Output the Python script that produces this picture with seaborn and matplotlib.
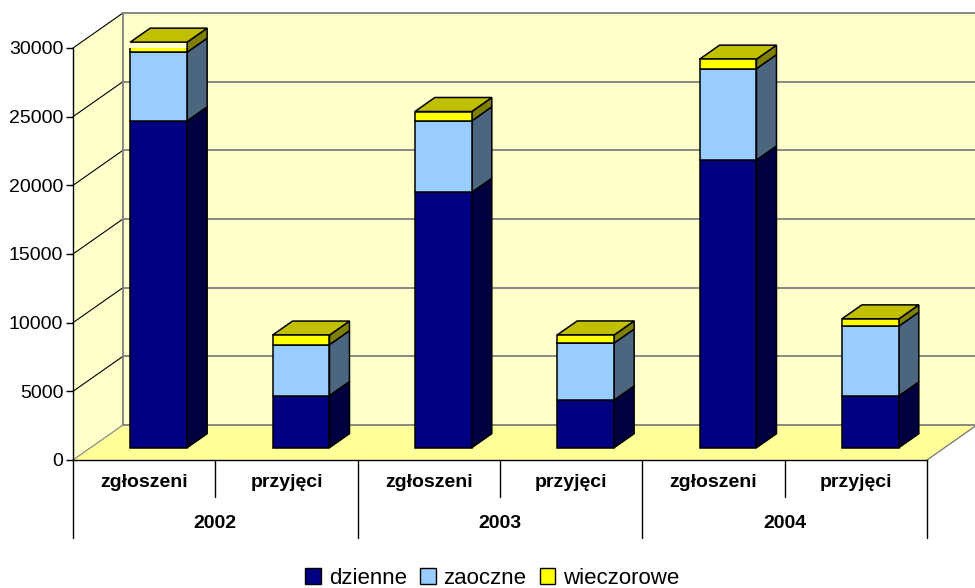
import matplotlib
matplotlib.use("Agg")
import matplotlib.pyplot as plt
from matplotlib.patches import Polygon, Patch
import seaborn as sns
import numpy as np
import pandas as pd

# Data
years = ["2002", "2003", "2004"]
groups = ["zgłoszeni", "przyjęci"]
series = ["dzienne", "zaoczne", "wieczorowe"]

dzienne = [23800, 3800, 18600, 3470, 20950, 3770]
zaoczne = [5000, 3700, 5200, 4150, 6650, 5080]
wieczorowe = [730, 700, 680, 590, 690, 530]

yticks = [0, 5000, 10000, 15000, 20000, 25000, 30000]

# Colours (Excel-like 3D look)
front_colors = ["#000080", "#99CCFF", "#FFFF00"]
side_colors = ["#000040", "#4D6680", "#808000"]
top_color = "#C0C000"
wall_color = "#FFFFCC"
floor_color = "#FFFF99"
grid_color = "#808080"

# 3D depth offsets in data units
WALL_DX, WALL_DY = 0.351, 2550
BAR_X0, BAR_Y0 = 0.102, 896
BAR_DX, BAR_DY = 0.1405, 1020

sns.set_style("white")
plt.rcParams["font.family"] = ["Liberation Sans", "DejaVu Sans"]
plt.rcParams["text.color"] = "black"
plt.rcParams["xtick.color"] = "black"
plt.rcParams["ytick.color"] = "black"

labels = [g for y in years for g in groups]
df = pd.DataFrame({
    "pos": np.arange(len(labels)),
    "dzienne": dzienne,
    "zaoczne": zaoczne,
    "wieczorowe": wieczorowe,
})

fig = plt.figure(figsize=(9.75, 5.88), dpi=100)
ax = fig.add_axes([73 / 975, 128 / 588, 854 / 975, 412 / 588])
ax.set_facecolor("none")

x_lo, x_hi = -0.5, len(labels) - 0.5
y_top = yticks[-1]

# back wall, side wall and floor
ax.add_patch(Polygon([(x_lo + WALL_DX, WALL_DY), (x_hi + WALL_DX + 0.2, WALL_DY),
                      (x_hi + WALL_DX + 0.2, y_top + WALL_DY), (x_lo + WALL_DX, y_top + WALL_DY)],
                     closed=True, fc=wall_color, ec="none", clip_on=False, zorder=0))
ax.add_patch(Polygon([(x_lo, 0), (x_lo, y_top), (x_lo + WALL_DX, y_top + WALL_DY),
                      (x_lo + WALL_DX, WALL_DY)],
                     closed=True, fc=wall_color, ec="none", clip_on=False, zorder=0))
ax.add_patch(Polygon([(x_lo, 0), (x_hi, 0), (x_hi + WALL_DX, WALL_DY), (x_lo + WALL_DX, WALL_DY)],
                     closed=True, fc=floor_color, ec="none", clip_on=False, zorder=1))

# gridlines on walls
for v in yticks:
    ax.plot([x_lo + WALL_DX, x_hi + WALL_DX + 0.2], [v + WALL_DY, v + WALL_DY],
            color=grid_color, lw=1.3, clip_on=False, zorder=2)
    ax.plot([x_lo, x_lo + WALL_DX], [v, v + WALL_DY],
            color="black" if v > 0 else grid_color, lw=0.8, clip_on=False, zorder=2)
ax.plot([x_lo + WALL_DX, x_lo + WALL_DX], [WALL_DY, y_top + WALL_DY],
        color=grid_color, lw=1.3, clip_on=False, zorder=2)
ax.plot([x_hi, x_hi + WALL_DX], [0, WALL_DY], color=grid_color, lw=1.0, clip_on=False, zorder=2)

# stacked bars: front faces with seaborn, then side and top faces
cum = np.zeros(len(labels))
for i, (name, fc) in enumerate(zip(series, front_colors)):
    vals = df[name].to_numpy(dtype=float)
    n_before = len(ax.patches)
    sns.barplot(x=df["pos"].to_numpy() + BAR_X0, y=vals, native_scale=True, width=0.4,
                bottom=cum + BAR_Y0, color=fc, saturation=1, errorbar=None,
                edgecolor="black", linewidth=1.1, zorder=5, ax=ax)
    for r in ax.patches[n_before:]:
        x0, w = r.get_x(), r.get_width()
        yb, h = r.get_y(), r.get_height()
        ax.add_patch(Polygon([(x0 + w, yb), (x0 + w + BAR_DX, yb + BAR_DY),
                              (x0 + w + BAR_DX, yb + h + BAR_DY), (x0 + w, yb + h)],
                             closed=True, fc=side_colors[i], ec="black", lw=1.1,
                             clip_on=False, zorder=4))
        if i == len(series) - 1:
            ax.add_patch(Polygon([(x0, yb + h), (x0 + w, yb + h),
                                  (x0 + w + BAR_DX, yb + h + BAR_DY), (x0 + BAR_DX, yb + h + BAR_DY)],
                                 closed=True, fc=top_color, ec="black", lw=1.1,
                                 clip_on=False, zorder=4))
    cum += vals

ax.set_xlim(x_lo, x_hi)
ax.set_ylim(0, y_top)
ax.set_xlabel("")
ax.set_ylabel("")

# axes look
for s in ["top", "right"]:
    ax.spines[s].set_visible(False)
ax.spines["left"].set_bounds(0, y_top)
ax.spines["left"].set_color("black")
ax.spines["left"].set_linewidth(1.0)
ax.spines["bottom"].set_color("black")
ax.spines["bottom"].set_linewidth(1.0)

ax.set_yticks(yticks)
ax.set_yticklabels([str(v) for v in yticks], fontsize=14)
ax.tick_params(axis="y", direction="out", length=5, width=1, color="black", pad=2, left=True)

ax.set_xticks(df["pos"])
ax.set_xticklabels(labels, fontsize=14, fontweight="bold")
ax.tick_params(axis="x", length=0, pad=10)

# category separators and year labels
trans = ax.get_xaxis_transform()
for b in np.arange(x_lo, x_hi + 0.01, 1.0):
    long_line = abs((b - x_lo) % 2) < 1e-9
    ax.plot([b, b], [0, -0.1893 if long_line else -0.0898], color="black", lw=1.0,
            transform=trans, clip_on=False)
for k, yr in enumerate(years):
    ax.text(2 * k + 0.5, -0.155, yr, transform=trans, ha="center", va="center",
            fontsize=14, fontweight="bold")

handles = [Patch(facecolor=c, edgecolor="black", linewidth=1.0) for c in front_colors]
fig.legend(handles, series, loc="lower center", bbox_to_anchor=(0.505, -0.035), ncol=3,
           frameon=False, fontsize=16, handlelength=0.7, handleheight=0.7,
           handletextpad=0.35, columnspacing=0.6)

fig.savefig("out.png", dpi=100)
